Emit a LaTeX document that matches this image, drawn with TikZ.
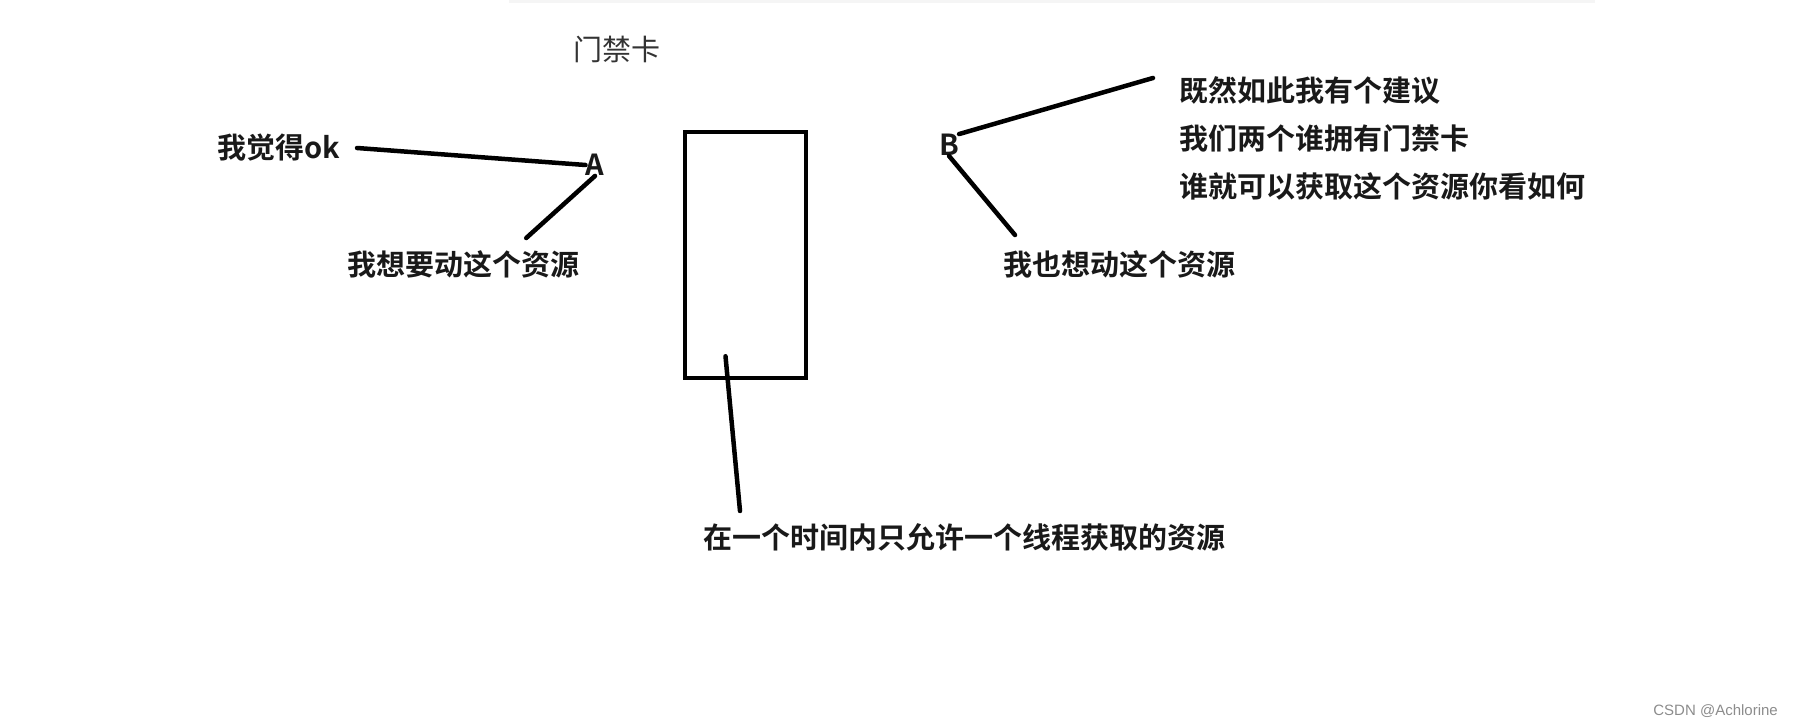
\documentclass[tikz,border=0pt]{standalone}
\usepackage{fontspec}
\newfontfamily\cjk{Noto Sans CJK SC}[BoldFont={Noto Sans CJK SC Bold}]
\setsansfont{Liberation Sans}
\usepackage{tikz}

\begin{document}
\begin{tikzpicture}[x=1pt, y=-1pt,
	say/.style={inner sep=0, text=black!90, font=\cjk\bfseries\fontsize{29}{48}\selectfont},
	stroke/.style={line width=4.5pt, line cap=round}]
	\useasboundingbox (0,0) rectangle (1793,727);
	\fill[black!4] (509,0) rectangle (1595,3); %shadow at the top

	\node[inner sep=0, text=black!80, font=\cjk\fontsize{29}{35}\selectfont] (card) at (617,49) {门禁卡};
	\node[draw, line width=4.5pt, minimum width=121, minimum height=246] (box) at (745.5,255) {};

	% thread A
	\node[say, anchor=west]	(ok) at (217,148) {我觉得ok};
	\node[say]		(A) at (595,165) {A};
	\node[say, anchor=west]	(wantA) at (347,264) {我想要动这个资源};
	\draw[stroke] ([xshift=17pt]ok.east) -- (A.west);
	\draw[stroke] (A.south) -- ([xshift=63pt, yshift=12pt]wantA.north);

	% thread B
	\node[say]		(B) at (949,145) {B};
	\node[say, anchor=west, align=left] (idea) at (1179,138) {既然如此我有个建议\\我们两个谁拥有门禁卡\\谁就可以获取这个资源你看如何};
	\node[say, anchor=west]	(wantB) at (1003,264) {我也想动这个资源};
	\draw[stroke] (B.north east) -- ([xshift=-26pt, yshift=-2pt]idea.north west);
	\draw[stroke] (B.south) -- ([xshift=12pt, yshift=15pt]wantB.north west);

	\node[say, anchor=west]	(once) at (703,537) {在一个时间内只允许一个线程获取的资源};
	\draw[stroke] ([xshift=-20pt, yshift=24pt]box.south) -- ([xshift=37pt, yshift=12pt]once.north west);

	\node[inner sep=0, anchor=east, text=black!45, font=\sffamily\fontsize{15}{18}\selectfont] (csdn) at (1778,711) {CSDN @Achlorine};
\end{tikzpicture}
\end{document}
